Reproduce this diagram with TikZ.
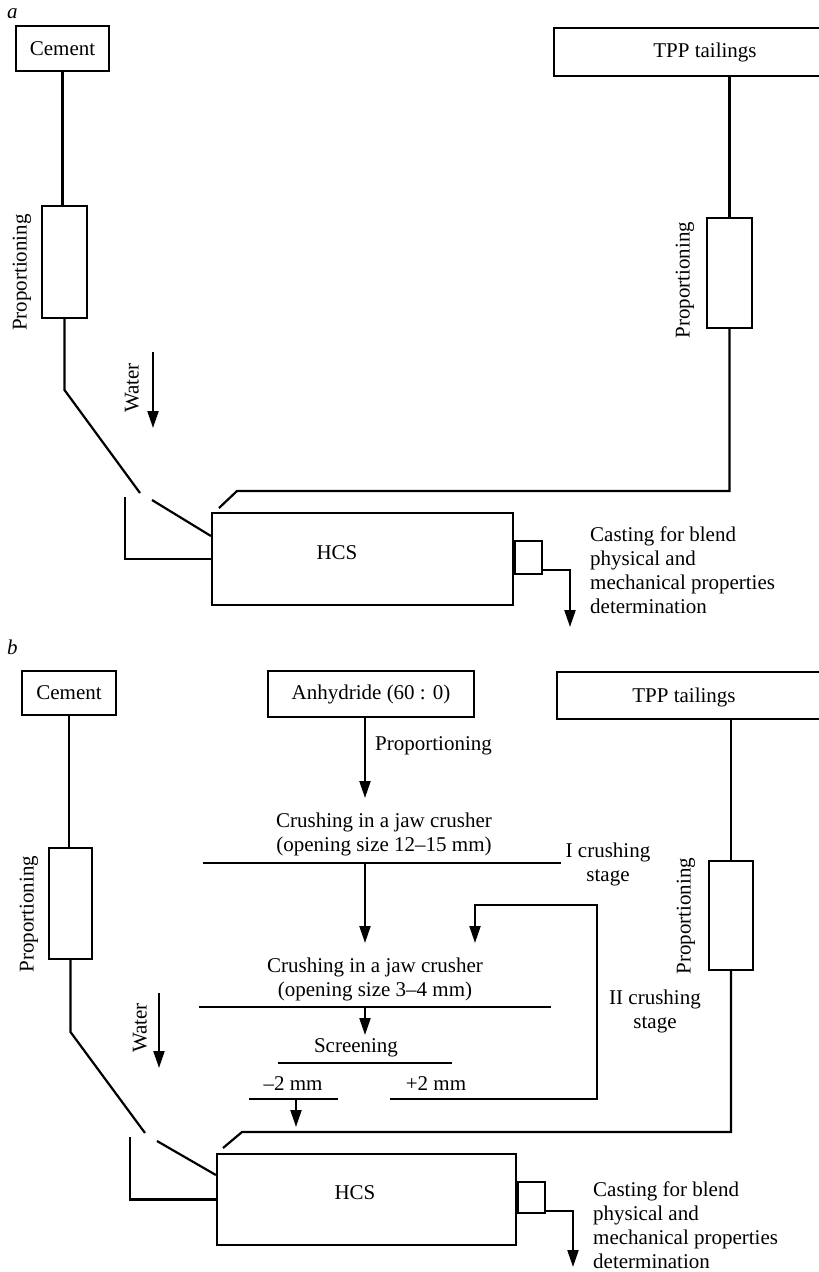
\documentclass[tikz,border=0pt]{standalone}
\usepackage{fontspec}
\setmainfont{Liberation Serif}
\usetikzlibrary{arrows.meta}
\begin{document}
\begin{tikzpicture}[x=1pt,y=-1pt,
  every node/.style={font=\fontsize{21}{24}\selectfont, inner sep=0pt},
  ln/.style={line width=2.2pt, line join=miter},
  boxn/.style={draw, line width=2.2pt},
  arr/.style={ln, -{Triangle[length=17pt,width=11pt]}},
  vtxt/.style={rotate=90},
  itl/.style={font=\fontsize{21}{24}\selectfont\itshape}]
\useasboundingbox (0,0) rectangle (819,1272);
\clip (0,0) rectangle (819,1272);

% ================= part a =================
\node[itl, anchor=base west] (la) at (7,18) {a};
\node[boxn, minimum width=93pt, minimum height=45pt] (cemA) at (62.5,48.5) {Cement};
\node[boxn, minimum width=45pt, minimum height=112pt] (propA1) at (64.5,262) {};
\node[vtxt] (tpropA1) at (22,272.5) {Proportioning};
\draw[ln] (cemA.south) -- (cemA.south |- propA1.north);

\node[boxn, minimum width=301pt, minimum height=92pt] (hcsA) at (362.5,559) {};
\node[anchor=base] (thcsA) at (337,559) {HCS};

\coordinate (kA1) at (64,390);
\coordinate (gA1) at (140,493);
\coordinate (gA2) at (152,500);
\coordinate (eA) at (hcsA.west |- 0,536);
\draw[ln] (propA1.south) -- (propA1.south |- kA1) -- (gA1);
\draw[ln] (gA2) -- (eA);

\coordinate (bA) at (125,497);
\draw[ln] (bA) -- (bA |- hcsA.west) -- (hcsA.west);

\coordinate (wA1) at (153,352);
\coordinate (wA2) at (153,428);
\draw[arr] (wA1) -- (wA2);
\node[vtxt] (twA) at (132,388) {Water};

\node[boxn, minimum width=27pt, minimum height=33pt, anchor=west] (smA) at (hcsA.east |- 0,557.5) {};
\coordinate (oA1) at (smA.east |- 0,570);
\coordinate (oA2) at (570,570);
\coordinate (oA3) at (570,627);
\draw[arr] (oA1) -- (oA2) -- (oA3);
\node[anchor=north west, align=left] (castA) at (590,527) {Casting for blend\\physical and\\mechanical properties\\determination};

\node[boxn, minimum width=302pt, minimum height=48pt] (tppA) at (705,52) {TPP tailings};
\node[boxn, minimum width=45pt, minimum height=110pt] (propA2) at (729.5,273) {};
\node[vtxt] (tpropA2) at (685,280) {Proportioning};
\draw[ln] (propA2.north |- tppA.south) -- (propA2.north);
\coordinate (cA) at (237,491);
\coordinate (hA) at (219,508);
\draw[ln] (propA2.south) -- (propA2.south |- cA) -- (cA) -- (hA);

% ================= part b =================
\node[itl, anchor=base west] (lb) at (7,654) {b};
\node[boxn, minimum width=94pt, minimum height=44pt] (cemB) at (69,693) {Cement};
\node[boxn, minimum width=43pt, minimum height=111pt] (propB1) at (70.5,903.5) {};
\node[vtxt] (tpropB1) at (29,914) {Proportioning};
\draw[ln] (cemB.south) -- (cemB.south |- propB1.north);

\node[boxn, minimum width=299pt, minimum height=91pt] (hcsB) at (366.5,1199.5) {};
\node[anchor=base] (thcsB) at (355,1199) {HCS};

\coordinate (kB1) at (70,1032);
\coordinate (gB1) at (145,1133);
\coordinate (gB2) at (157,1141);
\coordinate (eB) at (hcsB.west |- 0,1175);
\draw[ln] (propB1.south) -- (propB1.south |- kB1) -- (gB1);
\draw[ln] (gB2) -- (eB);

\coordinate (bB) at (130,1137);
\draw[ln] (bB) -- (bB |- hcsB.west) -- (hcsB.west);

\coordinate (wB1) at (159,993);
\coordinate (wB2) at (159,1068);
\draw[arr] (wB1) -- (wB2);
\node[vtxt] (twB) at (140,1028) {Water};

\node[boxn, minimum width=27pt, minimum height=31pt, anchor=west] (smB) at (hcsB.east |- 0,1197.5) {};
\coordinate (oB1) at (smB.east |- 0,1211);
\coordinate (oB2) at (573,1211);
\coordinate (oB3) at (573,1267);
\draw[arr] (oB1) -- (oB2) -- (oB3);
\node[anchor=north west, align=left] (castB) at (593,1181) {Casting for blend\\physical and\\mechanical properties\\determination};

% TPP tailings b
\node[boxn, minimum width=303pt, minimum height=47pt] (tppB) at (708.5,695.5) {};
\node[anchor=base] (ttppB) at (684,702) {TPP tailings};
\node[boxn, minimum width=44pt, minimum height=109pt] (propB2) at (731,915.5) {};
\node[vtxt] (tpropB2) at (686,916) {Proportioning};
\draw[ln] (propB2.north |- tppB.south) -- (propB2.north);
\coordinate (cB) at (242,1132);
\coordinate (hB) at (223,1148);
\draw[ln] (propB2.south) -- (propB2.south |- cB) -- (cB) -- (hB);

% anhydride chain
\node[boxn, minimum width=206pt, minimum height=46pt] (anB) at (371,694) {Anhydride (60 : 0)};
\coordinate (c1) at (365,798);
\draw[arr] (c1 |- anB.south) -- (c1);
\node[anchor=base west] (tpropC) at (375,750) {Proportioning};

\node[anchor=north, align=center] (cr1) at (384,812.5) {Crushing in a jaw crusher\\(opening size 12–15 mm)};
\coordinate (l1a) at (203,863);
\coordinate (l1b) at (561,863);
\draw[ln] (l1a) -- (l1b);
\node[anchor=north, align=center] (st1) at (608,842.7) {I crushing\\stage};

\coordinate (c2) at (365,943);
\draw[arr] (c2 |- l1a) -- (c2);

\node[anchor=north, align=center] (cr2) at (375,958) {Crushing in a jaw crusher\\(opening size 3–4 mm)};
\coordinate (l2a) at (199,1007);
\coordinate (l2b) at (551,1007);
\draw[ln] (l2a) -- (l2b);

\coordinate (c3) at (365,1035);
\draw[arr] (c3 |- l2a) -- (c3);

\node[anchor=base] (scr) at (356,1052) {Screening};
\coordinate (l3a) at (278,1063);
\coordinate (l3b) at (452,1063);
\draw[ln] (l3a) -- (l3b);

\node[anchor=base] (mm1) at (293,1090) {–2 mm};
\node[anchor=base] (mm2) at (436,1090) {+2 mm};
\coordinate (l4a) at (249,1099);
\coordinate (l4b) at (338,1099);
\draw[ln] (l4a) -- (l4b);
\coordinate (c4) at (296,1127);
\draw[arr] (c4 |- l4a) -- (c4);

\coordinate (l5a) at (390,1099);
\coordinate (l5b) at (597,1099);
\coordinate (r1) at (597,905);
\coordinate (r2) at (475,905);
\coordinate (r3) at (475,943);
\draw[arr] (l5a) -- (l5b) -- (r1) -- (r2) -- (r3);

\node[anchor=north, align=center] (st2) at (655,990) {II crushing\\stage};
\end{tikzpicture}
\end{document}
